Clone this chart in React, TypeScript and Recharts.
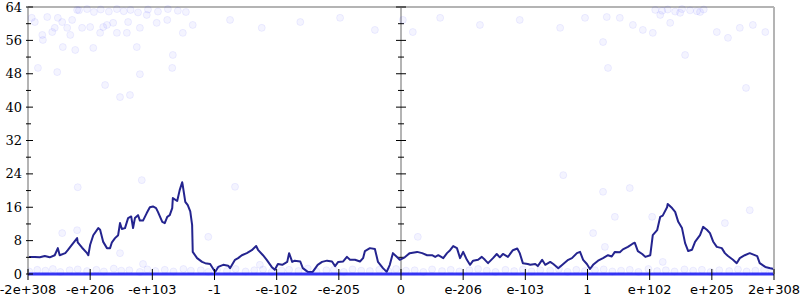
import React from 'react';
import { ComposedChart, Line, Scatter, XAxis, YAxis, ReferenceLine } from 'recharts';

// x positions are in axis units: one tick interval = 100, domain -600..600
const X_TICKS = [-600, -500, -400, -300, -200, -100, 0, 100, 200, 300, 400, 500, 600];
const X_LABELS = ['-2e+308', '-e+206', '-e+103', '-1', '-e-102', '-e-205', '0', 'e-206', 'e-103', '1', 'e+102', 'e+205', '2e+308'];
const Y_TICKS = [0, 4, 8, 12, 16, 20, 24, 28, 32, 36, 40, 44, 48, 52, 56, 60, 64];

const LINE_X = [
  -600, -589, -581, -573, -565, -557, -552, -549, -540, -536, -532, -521, -520, -513, -505, -503, -500, -495, -487, -484,
  -479, -473, -468, -465, -460, -455, -452, -449, -444, -439, -434, -431, -428, -423, -420, -415, -409, -404, -399, -394,
  -391, -384, -380, -376, -372, -368, -367, -360, -356, -352, -351, -347, -343, -339, -336, -335, -328, -320, -315, -307,
  -299, -294, -286, -278, -275, -267, -262, -256, -248, -240, -233, -230, -222, -216, -208, -203, -198, -191, -183, -180,
  -175, -171, -162, -158, -150, -142, -134, -127, -119, -111, -106, -101, -93, -87, -82, -74, -66, -61, -58, -50,
  -42, -37, -29, -23, -18, -13, -6, -2, 6, 14, 26, 34, 42, 50, 55, 60, 68, 74, 79, 84,
  90, 95, 100, 106, 111, 116, 124, 130, 135, 140, 148, 154, 159, 164, 172, 180, 187, 191, 196, 204,
  208, 216, 220, 227, 232, 240, 245, 253, 261, 269, 275, 283, 288, 293, 299, 304, 309, 317, 325, 333,
  339, 344, 352, 357, 365, 372, 376, 381, 388, 393, 401, 405, 412, 417, 421, 428, 429, 436, 441, 446,
  452, 457, 462, 468, 473, 481, 486, 492, 497, 502, 508, 516, 521, 526, 534, 540, 545, 553, 561, 573,
  577, 586, 594, 600,
];
const LINE_Y = [
  4.1, 4.1, 4.0, 4.3, 4.0, 4.5, 6.2, 4.5, 5.0, 5.7, 6.5, 8.6, 7.6, 6.3, 5.0, 4.5, 7.0, 9.3, 11.0, 10.6,
  7.7, 6.2, 6.2, 7.6, 8.6, 9.3, 12.2, 10.8, 11.0, 13.4, 13.8, 11.0, 13.4, 14.1, 12.8, 12.8, 14.6, 16.0, 16.2, 15.8,
  14.9, 12.5, 12.2, 13.7, 14.1, 15.8, 18.2, 17.5, 20.1, 22.0, 21.2, 17.3, 16.5, 15.0, 11.8, 5.3, 3.8, 2.9, 2.6, 2.4,
  0.5, 1.7, 2.2, 2.0, 1.4, 3.4, 3.8, 4.5, 5.0, 5.7, 6.7, 5.8, 4.5, 3.4, 1.7, 1.0, 2.4, 2.2, 2.9, 5.0,
  2.9, 3.2, 3.0, 1.4, 0.5, 0.5, 2.2, 2.9, 3.2, 3.0, 1.9, 2.9, 3.0, 4.1, 3.4, 3.4, 3.0, 3.8, 5.5, 6.2,
  6.0, 2.9, 1.4, 0.5, 2.2, 5.0, 4.0, 3.4, 4.0, 5.0, 5.3, 5.0, 4.5, 4.5, 4.1, 4.5, 3.8, 5.0, 5.7, 6.7,
  6.2, 3.8, 5.3, 3.4, 2.2, 3.2, 3.4, 4.1, 3.4, 2.6, 3.8, 4.8, 4.0, 4.8, 4.1, 5.7, 6.1, 5.0, 2.6, 2.4,
  2.2, 2.4, 1.9, 3.4, 2.2, 2.9, 2.4, 1.4, 2.4, 3.4, 3.8, 5.0, 5.3, 3.4, 2.4, 1.2, 2.2, 3.2, 3.8, 4.5,
  4.2, 5.3, 5.2, 5.9, 6.5, 7.2, 7.5, 5.5, 4.8, 4.1, 4.5, 9.3, 10.5, 13.7, 14.0, 16.0, 16.8, 15.8, 14.9, 12.5,
  11.0, 7.4, 5.5, 5.8, 7.7, 9.3, 11.3, 10.6, 9.8, 7.8, 6.5, 6.2, 5.0, 4.3, 3.4, 2.6, 3.8, 4.5, 5.0, 4.3,
  2.6, 1.7, 1.4, 1.2,
];

// faint scattered samples
const DOT_X = [
  -594, -589, -577, -576, -569, -561, -557, -552, -545, -544, -537, -532, -529, -524, -521, -513, -500, -495, -484, -479,
  -473, -463, -457, -441, -439, -425, -420, -584, -553, -476, -452, -436, -420, -409, -393, -376, -367, -368, -351, -335,
  -518, -505, -494, -483, -470, -457, -446, -435, -423, -407, -391, -375, -359, -346,
  -275, -224, -162, -98, -42, 3, 19, 63, 127, 191, 256, 296,
  331, 352, 373, 389, 405, 417, 433, 449, 457, 481, 508, 526, 545, 566, 586, 333, 555, 325,
  409, 420, 429, 441, 452, 465, 476, 487,
  -520, -417, -521, -545, -452, -415, -310, -267, -227, 261, 325, 309, 328, 344, 368, 404, 421, 521, 561, 27,
  -598, -585, -572, -560, -548, -533, -520, -505, -490, -478, -462, -450, -437, -420, -408, -395, -380, -366, -350, -338,
  -322, -310, -296, -280, -266, -250, -236, -222, -208, -192, -180, -165, -150, -136, -120, -108, -92, -78, -64, -50,
  -35, -20, -8, 8, 22, 36, 50, 66, 80, 94, 110, 124, 138, 152, 168, 182, 196, 210, 224, 240,
  254, 268, 282, 296, 312, 326, 340, 354, 368, 382, 398, 412, 426, 440, 456, 470, 484, 498, 512, 528,
  542, 556, 570, 584, 596,
];
const DOT_Y = [
  61.4, 60.4, 57.3, 56.1, 61.6, 58.0, 59.0, 61.4, 60.4, 54.4, 59.0, 57.3, 60.9, 53.7, 63.3, 59.0, 59.2, 54.2, 57.8, 59.2,
  59.7, 60.2, 57.8, 57.8, 60.4, 54.4, 59.0, 49.4, 48.4, 45.3, 42.4, 42.9, 47.9, 62.1, 60.2, 60.9, 52.5, 49.4, 57.8, 59.7,
  63.2, 63.5, 62.8, 63.4, 62.9, 63.5, 63.0, 63.3, 62.7, 63.4, 62.9, 63.5, 63.1, 62.8,
  60.9, 59.0, 60.4, 61.4, 58.5, 60.9, 58.0, 61.4, 59.7, 60.9, 59.0, 61.4,
  61.6, 61.4, 59.7, 58.5, 57.8, 62.1, 60.2, 62.6, 52.5, 62.8, 58.0, 56.6, 59.0, 59.7, 58.0, 49.4, 44.6, 55.6,
  63.3, 63.1, 63.4, 62.9, 63.5, 63.2, 63.0, 63.4,
  20.8, 22.5, 10.5, 9.8, 5.0, 2.4, 8.9, 20.9, 2.2, 23.7, 19.7, 9.8, 6.5, 13.7, 20.6, 13.7, 2.9, 12.2, 15.3, 8.9,
  0.6, 1.0, 0.8, 1.2, 0.5, 0.9, 1.1, 0.7, 1.0, 0.6, 1.3, 0.8, 0.9, 0.5, 1.1, 0.7, 1.0, 0.6, 1.2, 0.8,
  0.9, 0.5, 1.0, 0.7, 1.2, 0.6, 0.9, 1.1, 0.5, 0.8, 1.0, 0.7, 1.3, 0.6, 0.9, 1.0, 0.5, 1.1, 0.8, 0.7,
  1.0, 0.6, 1.2, 0.8, 0.9, 0.5, 1.1, 0.7, 1.0, 0.6, 0.9, 1.2, 0.8, 0.5, 1.0, 0.7, 1.1, 0.6, 0.9, 0.8,
  1.2, 0.5, 1.0, 0.7, 0.9, 1.1, 0.6, 0.8, 1.0, 0.5, 1.2, 0.7, 0.9, 0.6, 1.1, 0.8, 1.0, 0.5, 0.9, 0.7,
  1.1, 0.6, 0.8, 1.0, 0.7,
];

const lineData = LINE_X.map((x, i) => ({ x, y: LINE_Y[i] }));
const dotData = DOT_X.map((x, i) => ({ x, y: DOT_Y[i] }));

const AXIS_GRAY = '#b4b4b4';

const XTick = (props: any) => {
  const { x, y, payload } = props;
  const label = X_LABELS[X_TICKS.indexOf(payload.value)];
  return (
    <g>
      <line x1={x} x2={x} y1={y - 5} y2={y + 6} stroke="#000" strokeWidth={1} />
      <text x={x} y={y + 20} textAnchor="middle" fontFamily="DejaVu Sans" fontSize={13} fill="#000">
        {label}
      </text>
    </g>
  );
};

const YTickLeft = (props: any) => {
  const { x, y, payload } = props;
  const major = payload.value % 8 === 0;
  return (
    <g>
      <line x1={x - 2} x2={x + (major ? 5 : 3)} y1={y} y2={y} stroke="#000" strokeWidth={1} />
      {major && (
        <text x={x - 6} y={y} dy="0.35em" textAnchor="end" fontFamily="DejaVu Serif" fontSize={13} fill="#000">
          {payload.value}
        </text>
      )}
    </g>
  );
};

const YTickRight = (props: any) => {
  const { x, y, payload } = props;
  const major = payload.value % 8 === 0;
  const h = major ? 6 : 3;
  return <line x1={x - h} x2={x + h} y1={y} y2={y} stroke="#000" strokeWidth={1} />;
};

const CenterAxis = (props: any) => {
  const { x1, y1, y2 } = props;
  const top = Math.min(y1, y2);
  const bottom = Math.max(y1, y2);
  return (
    <g>
      <line x1={x1} x2={x1} y1={top} y2={bottom} stroke={AXIS_GRAY} strokeWidth={2} />
      {Y_TICKS.map((v) => {
        const yy = bottom - ((bottom - top) * v) / 64;
        const h = v % 8 === 0 ? 5 : 3;
        return <line key={v} x1={x1 - h} x2={x1 + h} y1={yy} y2={yy} stroke="#000" strokeWidth={1} />;
      })}
    </g>
  );
};

const Dot = (props: any) => (
  <circle cx={props.cx} cy={props.cy} r={3.5} fill="#3030ff" fillOpacity={0.05} stroke="#3030ff" strokeOpacity={0.07} strokeWidth={1} />
);

export default function App() {
  return (
    <div style={{ position: 'absolute', left: 0, top: 0, width: 800, height: 300, background: '#fff' }}>
      <ComposedChart width={800} height={300} margin={{ top: 7, right: 0, bottom: 0, left: 0 }}>
        <XAxis
          dataKey="x"
          type="number"
          domain={[-600, 600]}
          ticks={X_TICKS}
          interval={0}
          height={26}
          tickSize={0}
          tickMargin={0}
          tickLine={false}
          axisLine={{ stroke: '#3535f2', strokeWidth: 3 }}
          tick={<XTick />}
          allowDataOverflow
        />
        <YAxis
          yAxisId="left"
          type="number"
          domain={[0, 64]}
          ticks={Y_TICKS}
          interval={0}
          width={28}
          tickSize={0}
          tickMargin={0}
          tickLine={false}
          axisLine={{ stroke: AXIS_GRAY, strokeWidth: 2 }}
          tick={<YTickLeft />}
        />
        <YAxis
          yAxisId="right"
          orientation="right"
          type="number"
          domain={[0, 64]}
          ticks={Y_TICKS}
          interval={0}
          width={26}
          tickSize={0}
          tickMargin={0}
          tickLine={false}
          axisLine={{ stroke: AXIS_GRAY, strokeWidth: 2 }}
          tick={<YTickRight />}
        />
        <ReferenceLine yAxisId="left" y={64} stroke={AXIS_GRAY} strokeWidth={2} />
        <Scatter yAxisId="left" data={dotData} dataKey="y" shape={<Dot />} isAnimationActive={false} />
        <ReferenceLine yAxisId="left" x={0} shape={<CenterAxis />} />
        <Line
          yAxisId="left"
          data={lineData}
          dataKey="y"
          type="linear"
          stroke="#24248f"
          strokeWidth={2}
          strokeLinejoin="round"
          dot={false}
          activeDot={false}
          isAnimationActive={false}
        />
      </ComposedChart>
    </div>
  );
}
